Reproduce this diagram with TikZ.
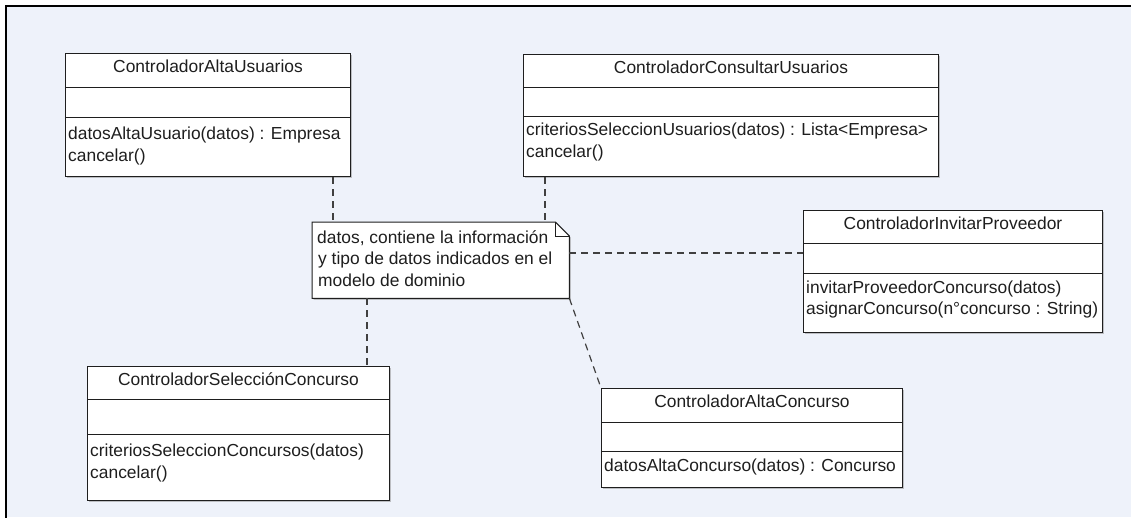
\documentclass[tikz,border=0pt]{standalone}
\usepackage{fontspec}
\setmainfont{Liberation Sans}
\usetikzlibrary{calc,shadows}

\definecolor{canvas}{HTML}{EEF2FA}
\definecolor{ink}{HTML}{1E1E1E}

\tikzset{
  shade box/.style={drop shadow={shadow xshift=1.5pt, shadow yshift=-1.5pt, fill=black!50, opacity=0.45}},
  cls/.style={draw=ink, line width=1pt, fill=white, anchor=north west, inner sep=0pt, shade box},
  sep/.style={draw=ink, line width=1pt},
  umltitle/.style={anchor=base, inner sep=0pt, text=ink, font=\fontsize{17.4}{22}\selectfont},
  umlop/.style={anchor=base west, inner sep=0pt, text=ink, font=\fontsize{17.4}{22}\selectfont},
  link/.style={draw=ink!85, line width=1.2pt, dash pattern=on 7pt off 5pt},
}

% class box: name, x, y, width, height, first separator, second separator, title
\newcommand\umlclass[8]{%
  \node[cls, minimum width=#4pt, minimum height=#5pt] (#1) at (#2,#3) {};
  \draw[sep] ($(#1.north west)+(0,#6)$) -- ($(#1.north east)+(0,#6)$);
  \draw[sep] ($(#1.north west)+(0,#7)$) -- ($(#1.north east)+(0,#7)$);
  \node[umltitle] (#1-t) at ($(#1.north)+(0,19)$) {#8};
}

\begin{document}
\begin{tikzpicture}[x=1pt, y=-1pt]
  \useasboundingbox (0,0) rectangle (1131,517);
  \fill[white] (0,0) rectangle (1131,517);
  \fill[canvas] (6,6) rectangle (1131,517);
  \draw[line width=2.5pt, line cap=rect] (6,517) -- (6,6) -- (1131,6);

  % classes
  \umlclass{cau}{65}{53}{285}{123}{34}{64}{ControladorAltaUsuarios}
  \node[umlop] (cau-m1) at ($(cau.north west)+(3,86)$) {datosAltaUsuario(datos) : Empresa};
  \node[umlop] (cau-m2) at ($(cau.north west)+(3,108)$) {cancelar()};

  \umlclass{ccu}{523}{54}{415}{122}{33}{62}{ControladorConsultarUsuarios}
  \node[umlop] (ccu-m1) at ($(ccu.north west)+(3,81)$) {criteriosSeleccionUsuarios(datos) : Lista<Empresa>};
  \node[umlop] (ccu-m2) at ($(ccu.north west)+(3,103)$) {cancelar()};

  \umlclass{cip}{803}{210}{299}{122}{33}{63}{ControladorInvitarProveedor}
  \node[umlop] (cip-m1) at ($(cip.north west)+(3,83)$) {invitarProveedorConcurso(datos)};
  \node[umlop] (cip-m2) at ($(cip.north west)+(3,104)$) {asignarConcurso(n°concurso : String)};

  \umlclass{csc}{87}{366}{302}{134}{33}{68}{ControladorSelecciónConcurso}
  \node[umlop] (csc-m1) at ($(csc.north west)+(3,90)$) {criteriosSeleccionConcursos(datos)};
  \node[umlop] (csc-m2) at ($(csc.north west)+(3,112)$) {cancelar()};

  \umlclass{cac}{601}{388}{301}{99}{34}{63}{ControladorAltaConcurso}
  \node[umlop] (cac-m1) at ($(cac.north west)+(3,83)$) {datosAltaConcurso(datos) : Concurso};

  % note with folded corner
  \node[anchor=north west, inner sep=0pt, minimum width=257pt, minimum height=76pt] (note) at (312,222) {};
  \path[draw=ink, line width=1pt, fill=white, shade box]
    (note.north west) -- ($(note.north east)+(-14,0)$) -- ($(note.north east)+(0,14)$)
    -- (note.south east) -- (note.south west) -- cycle;
  \draw[sep] ($(note.north east)+(-14,0)$) |- ($(note.north east)+(0,14)$);
  \node[umlop] (note-l1) at ($(note.north west)+(5,21)$) {datos, contiene la información};
  \node[umlop] (note-l2) at ($(note.north west)+(6,42)$) {y tipo de datos indicados en el};
  \node[umlop] (note-l3) at ($(note.north west)+(6,64)$) {modelo de dominio};

  % anchor lines from the note
  \coordinate (k1) at (333,0);
  \coordinate (k2) at (545,0);
  \coordinate (k3) at (0,253);
  \coordinate (k4) at (367,0);
  \draw[link] (cau.south -| k1) -- (note.north -| k1);
  \draw[link] (ccu.south -| k2) -- (note.north -| k2);
  \draw[link] (note.east |- k3) -- (cip.west |- k3);
  \draw[link] (note.south -| k4) -- (csc.north -| k4);
  \draw[link] (note.south east) -- (cac.north west);
\end{tikzpicture}
\end{document}
